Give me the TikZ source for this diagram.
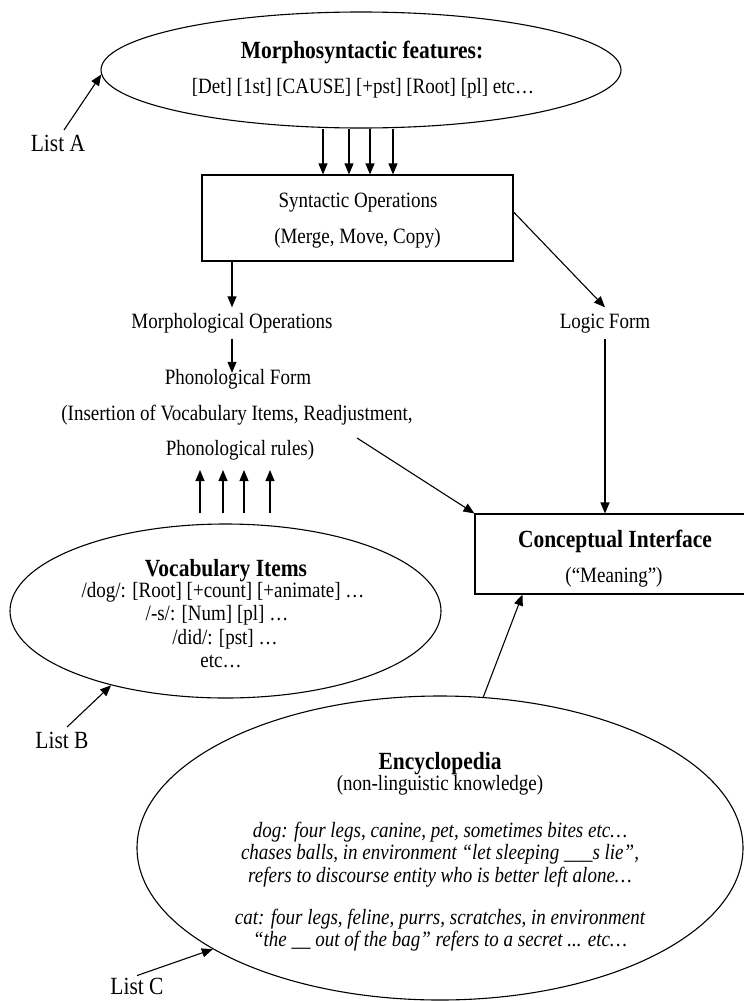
\documentclass[tikz,border=0pt]{standalone}
\usepackage{fontspec}
\setmainfont{Liberation Serif}[FakeStretch=0.87]
\usetikzlibrary{arrows.meta,shapes.geometric}
\begin{document}
\begin{tikzpicture}[x=1pt,y=-1pt,
  ell/.style={draw, ellipse, inner sep=0pt, line width=1.1pt},
  boxx/.style={draw, rectangle, inner sep=0pt, line width=1.1pt},
  arr/.style={-{Triangle[length=11pt,width=9pt]}, line width=1.1pt},
  txt/.style={font=\fontsize{21.85pt}{25pt}\selectfont, inner sep=0pt, text height=15pt, text depth=4.6pt},
  itx/.style={font=\fontsize{21.85pt}{25pt}\selectfont\itshape, inner sep=0pt, text height=15pt, text depth=4.6pt},
  head/.style={font=\fontsize{24.7pt}{28pt}\selectfont\bfseries, inner sep=0pt, text height=17.3pt, text depth=5.2pt},
  lst/.style={font=\fontsize{24.7pt}{28pt}\selectfont, inner xsep=0pt, inner ysep=3.5pt, text height=17.3pt, text depth=5.2pt}
]
\useasboundingbox (0,0) rectangle (744,1001);

% Morphosyntactic features
\node[ell, minimum width=520pt, minimum height=116pt] (feat) at (361,70) {};
\node[head] (featT) at (362,52) {Morphosyntactic features:};
\node[txt] (featL) at (363,88) {[Det] [1st] [CAUSE] [+pst] [Root] [pl] etc…};

% Syntactic operations
\node[boxx, minimum width=311pt, minimum height=86pt] (synt) at (357.5,218) {};
\node[txt] (syntT) at (358,202) {Syntactic Operations};
\node[txt] (syntL) at (357.5,238) {(Merge, Move, Copy)};

% middle texts
\node[txt, inner ysep=5.7pt] (morph) at (232,323) {Morphological Operations};
\node[txt, inner ysep=5.7pt] (logic) at (605,323) {Logic Form};
\node[txt, inner ysep=-3.8pt] (phon) at (238,379) {Phonological Form};
\node[txt] (ins) at (237,415) {(Insertion of Vocabulary Items, Readjustment,};
\node[txt] (rules) at (240,450) {Phonological rules)};

% Conceptual interface
\node[boxx, minimum width=271pt, minimum height=80pt] (ci) at (610.5,554) {};
\node[head] (ciT) at (615,541) {Conceptual Interface};
\node[txt] (ciL) at (614,577) {(“Meaning”)};

% Vocabulary items
\node[ell, minimum width=431pt, minimum height=174pt] (voc) at (225.5,611) {};
\node[head] (vocT) at (226,570) {Vocabulary Items};
\node[txt] (voc1) at (223,592) {/dog/: [Root] [+count] [+animate] …};
\node[txt] (voc2) at (217,615) {/-s/: [Num] [pl] …};
\node[txt] (voc3) at (225,639) {/did/: [pst] …};
\node[txt] (voc4) at (221,662) {etc…};

% Encyclopedia
\node[ell, minimum width=606pt, minimum height=304pt] (enc) at (440,848) {};
\node[head] (encT) at (440,763) {Encyclopedia};
\node[txt] (encS) at (440,785) {(non-linguistic knowledge)};
\node[itx] (enc1) at (440,832) {dog: four legs, canine, pet, sometimes bites etc…};
\node[itx] (enc2) at (440,854) {chases balls, in environment “let sleeping \_\_\_s lie”,};
\node[itx] (enc3) at (440,877) {refers to discourse entity who is better left alone…};
\node[itx] (enc4) at (440,919) {cat: four legs, feline, purrs, scratches, in environment};
\node[itx] (enc5) at (440,941) {“the \_\_ out of the bag” refers to a secret ... etc…};

% Lists
\node[lst] (listA) at (58,145) {List A};
\node[lst] (listB) at (62,742) {List B};
\node[lst, inner ysep=1pt] (listC) at (137,988) {List C};

% connectors
\draw[arr] ([xshift=6pt]listA.north) -- (feat.181);
\draw[arr] ([xshift=5pt]listB.north) -- (voc.213);
\draw[arr] (listC.north) -- (enc.204);

\foreach \a/\b in {-38/-34.5,-12/-8.5,9/12.5,32/35.5}
  \draw[arr] ([xshift=\a pt]feat.south) -- ([xshift=\b pt]synt.north);

\draw[arr] ([xshift=-125.5pt]synt.south) -- (morph.north);
\draw[arr] ([yshift=6pt]synt.east) -- (logic.north);
\draw[arr] (morph.south) -- (morph.south |- phon.north);
\draw[arr] (logic.south) -- (logic.south |- ci.north);

\coordinate (pfout) at (357,438);
\draw[arr] (pfout) -- (ci.north west);
\draw[arr] (enc.74) -- ([xshift=48pt]ci.south west);

\coordinate (u1s) at (200,513); \coordinate (u1e) at (200,470);
\coordinate (u2s) at (223,513); \coordinate (u2e) at (223,470);
\coordinate (u3s) at (244,513); \coordinate (u3e) at (244,470);
\coordinate (u4s) at (270,513); \coordinate (u4e) at (270,470);
\draw[arr] (u1s) -- (u1e);
\draw[arr] (u2s) -- (u2e);
\draw[arr] (u3s) -- (u3e);
\draw[arr] (u4s) -- (u4e);
\end{tikzpicture}
\end{document}
